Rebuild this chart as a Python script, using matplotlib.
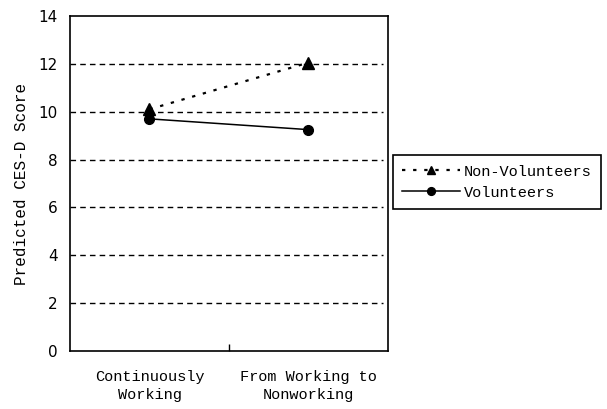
import matplotlib
matplotlib.use("Agg")
import matplotlib.pyplot as plt
from matplotlib.transforms import offset_copy

categories = ["Continuously\nWorking", "From Working to\nNonworking"]
non_volunteers = [10.1, 12.05]
volunteers = [9.7, 9.25]
yticks = [0, 2, 4, 6, 8, 10, 12, 14]

FONT = "Liberation Mono"

fig = plt.figure(figsize=(6.07, 4.09), dpi=100)
ax = fig.add_axes([0.1153, 0.1418, 0.5237, 0.8192])

x = [0.5, 1.5]
for g in [2, 4, 6, 8, 10, 12]:
    ax.axhline(g, xmin=0.0, xmax=0.985, color="black", lw=1.0, ls=(0, (4, 3)), zorder=1)

ax.plot(x, non_volunteers, color="black", ls=(0, (1.5, 3.5)), lw=1.6, marker="^",
        markersize=8, label="Non-Volunteers", zorder=3)
ax.plot(x, volunteers, color="black", ls="-", lw=1.1, marker="o",
        markersize=7, label="Volunteers", zorder=3)

ax.set_xlim(0, 2)
ax.set_ylim(0, 14)
ax.set_yticks(yticks)
ax.set_yticklabels([str(t) for t in yticks], fontsize=11, family="DejaVu Sans")
ax.tick_params(axis="y", length=0, pad=9)
ax.set_xticks([1])
ax.set_xticklabels([""])
ax.tick_params(axis="x", direction="in", length=5, width=1)
base = ax.get_xaxis_transform()
tr = offset_copy(base, fig=fig, x=0, y=-14, units="points")
for i, c in enumerate(categories):
    ax.text(x[i], 0, c, transform=tr, ha="center", va="top", fontsize=11,
            family=FONT, linespacing=1.3)
for s in ax.spines.values():
    s.set_linewidth(1.2)

ax.set_ylabel("Predicted CES-D Score", fontsize=11.5, family=FONT, labelpad=7)

leg = fig.legend(loc="upper left", bbox_to_anchor=(0.647, 0.621), frameon=True,
                 fancybox=False, edgecolor="black", framealpha=1,
                 prop={"family": FONT, "size": 11},
                 handlelength=3.8, borderpad=0.6, labelspacing=0.45, handletextpad=0.25,
                 borderaxespad=0, markerscale=0.8, handleheight=0.9)
leg.get_frame().set_linewidth(1.2)

fig.savefig("out.png", dpi=100)
